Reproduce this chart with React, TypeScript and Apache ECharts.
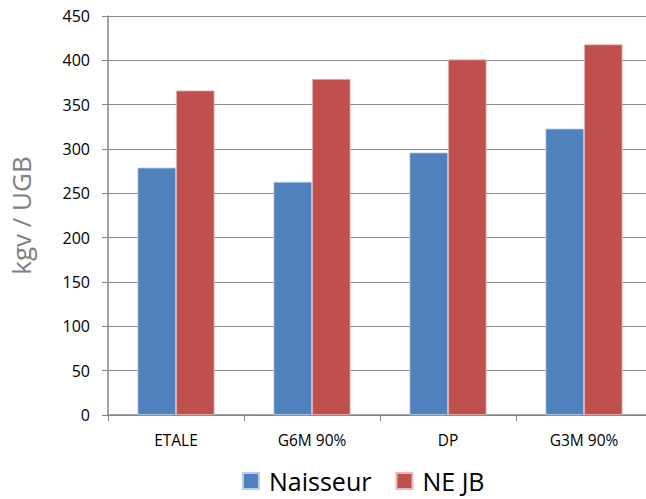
import React, { useEffect, useRef } from "react";
import * as echarts from "echarts";

const categories = ["ETALE", "G6M 90%", "DP", "G3M 90%"];
const naisseur = [279, 263, 296, 323];
const neJB = [366, 379, 401, 418];
const seriesNames = ["Naisseur", "NE JB"];
const yTitle = "kgv / UGB";

export default function App() {
  const ref = useRef<HTMLDivElement>(null);
  useEffect(() => {
    if (!ref.current) return;
    const chart = echarts.init(ref.current, null, { renderer: "svg" });
    const font = "'Open Sans', 'Noto Sans', sans-serif";
    chart.setOption({
      animation: false,
      textStyle: { fontFamily: font },
      grid: { left: 108, top: 16, bottom: 84, right: 0 },
      legend: {
        data: seriesNames,
        top: 468,
        left: 242,
        padding: 0,
        itemWidth: 16,
        itemHeight: 16,
        itemGap: 24,
        icon: "rect",
        textStyle: { fontSize: 25, lineHeight: 26, color: "#000", fontFamily: font, padding: [0, 0, 0, 5] },
      },
      xAxis: {
        type: "category",
        data: categories,
        axisLine: { lineStyle: { color: "#868686", width: 1.5 } },
        axisTick: { show: true, length: 6, alignWithLabel: false, lineStyle: { color: "#868686" } },
        axisLabel: { fontSize: 15.5, color: "#000", margin: 17, fontFamily: font },
      },
      yAxis: {
        type: "value",
        min: 0,
        max: 450,
        interval: 50,
        name: yTitle,
        nameLocation: "middle",
        nameGap: 74,
        nameTextStyle: { fontSize: 26, color: "#808080", fontFamily: font },
        axisLine: { show: true, lineStyle: { color: "#868686", width: 1.5 } },
        axisTick: { show: true, length: 6, lineStyle: { color: "#868686" } },
        axisLabel: { fontSize: 16, color: "#000", margin: 18, fontFamily: font },
        splitLine: { lineStyle: { color: "#8c8c8c", width: 1 } },
      },
      series: [
        {
          name: seriesNames[0],
          type: "bar",
          data: naisseur,
          barWidth: 38.5,
          barGap: "0%",
          itemStyle: { color: "#4F81BD", borderColor: "#b9cde5", borderWidth: 0.8 },
        },
        {
          name: seriesNames[1],
          type: "bar",
          data: neJB,
          barWidth: 38.5,
          barGap: "0%",
          itemStyle: { color: "#C0504D", borderColor: "#e6b9b8", borderWidth: 0.8 },
        },
      ],
    });
    return () => chart.dispose();
  }, []);
  return (
    <div style={{ position: "absolute", left: 0, top: 0, width: 646, height: 499, overflow: "hidden", background: "#fff" }}>
      <div ref={ref} style={{ width: 652, height: 499 }} />
    </div>
  );
}
